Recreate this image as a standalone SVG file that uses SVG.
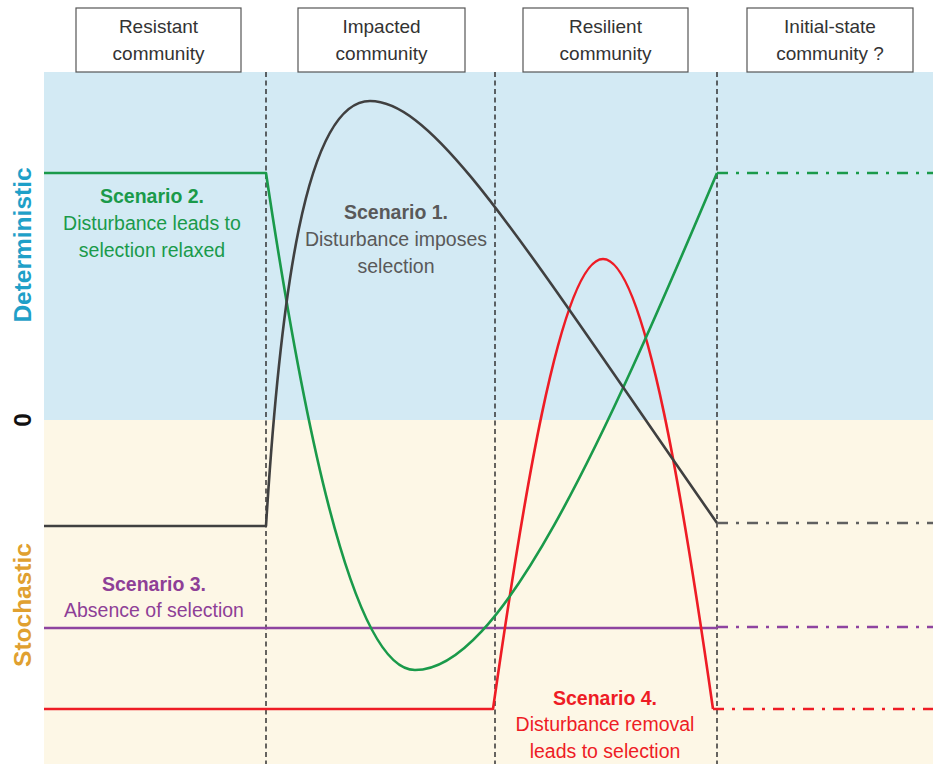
<svg xmlns="http://www.w3.org/2000/svg" width="933" height="764" viewBox="0 0 933 764">
<style>
text{font-family:"Liberation Sans",Arial,sans-serif;text-anchor:middle}
.box rect{fill:#fff;stroke:#555;stroke-width:1.2}
.box text{font-size:19px;fill:#333}
.lbl{font-size:19.5px}
.b{font-weight:bold}
.vd{stroke:#333;stroke-width:1.5;stroke-dasharray:5 3.5;fill:none}
.cv{fill:none;stroke-width:2.6;stroke-linejoin:round}
.dd{fill:none;stroke-width:2.6;stroke-dasharray:11 8 3 8}
</style>
<rect x="44" y="72" width="889" height="348" fill="#d3eaf4"/>
<rect x="44" y="420" width="889" height="344" fill="#fdf7e6"/>
<g id="box-resistant" class="box"><rect x="76" y="8" width="165" height="64"/><text x="158.5" y="33">Resistant</text><text x="158.5" y="60">community</text></g>
<g id="box-impacted" class="box"><rect x="298" y="8" width="167" height="64"/><text x="381.5" y="33">Impacted</text><text x="381.5" y="60">community</text></g>
<g id="box-resilient" class="box"><rect x="523" y="8" width="165" height="64"/><text x="605.5" y="33">Resilient</text><text x="605.5" y="60">community</text></g>
<g id="box-initial" class="box"><rect x="747" y="8" width="166" height="64"/><text x="830" y="33">Initial-state</text><text x="830" y="60">community ?</text></g>
<g id="axis">
<text transform="translate(31,245) rotate(-90)" font-size="24.5" font-weight="bold" fill="#1fa0c8">Deterministic</text>
<text transform="translate(31,420) rotate(-90)" font-size="24.5" font-weight="bold" fill="#111">0</text>
<text transform="translate(31,605) rotate(-90)" font-size="24.5" font-weight="bold" fill="#e0a030">Stochastic</text>
</g>
<g id="connectors">
<line class="vd" x1="266" y1="72" x2="266" y2="764"/>
<line class="vd" x1="495" y1="72" x2="495" y2="764"/>
<line class="vd" x1="717" y1="72" x2="717" y2="764"/>
<path class="cv" stroke="#8e44a0" d="M44,628 L717,628"/>
<path class="cv" stroke="#ee1c25" d="M44,709 L493,709 C520,520 560,259 603,259 C646,259 686,520 713,709"/>
<path class="cv" stroke="#1a9a4a" d="M44,173 L266,173 C300,400 350,670 415,670 C500,670 600,450 717,173"/>
<path class="cv" stroke="#404040" d="M44,526 L266,526 C280,300 305,101 370,101 C435,101 520,240 717,523"/>
<line class="dd" stroke="#1a9a4a" x1="717" y1="173" x2="933" y2="173"/>
<line class="dd" stroke="#606060" x1="717" y1="523" x2="933" y2="523"/>
<line class="dd" stroke="#8e44a0" x1="717" y1="627" x2="933" y2="627"/>
<line class="dd" stroke="#ee1c25" x1="713" y1="709" x2="933" y2="709"/>
</g>
<g id="scenario2" fill="#1a9a4a"><text class="lbl b" x="152" y="203">Scenario 2.</text><text class="lbl" x="152" y="230">Disturbance leads to</text><text class="lbl" x="152" y="257">selection relaxed</text></g>
<g id="scenario1" fill="#595959"><text class="lbl b" x="396" y="219">Scenario 1.</text><text class="lbl" x="396" y="246">Disturbance imposes</text><text class="lbl" x="396" y="273">selection</text></g>
<g id="scenario3" fill="#8e3f97"><text class="lbl b" x="154" y="591">Scenario 3.</text><text class="lbl" x="154" y="617">Absence of selection</text></g>
<g id="scenario4" fill="#ee1c25"><text class="lbl b" x="605" y="705">Scenario 4.</text><text class="lbl" x="605" y="731">Disturbance removal</text><text class="lbl" x="605" y="758">leads to selection</text></g>
</svg>
